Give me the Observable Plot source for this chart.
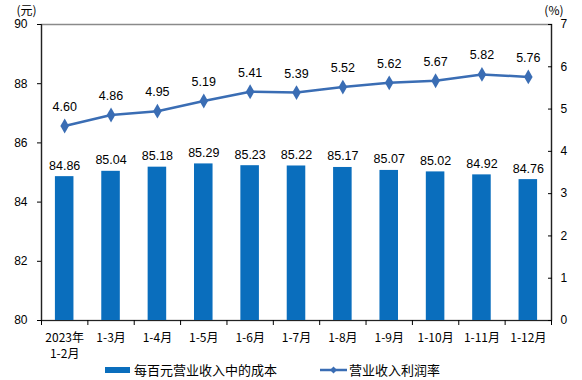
<!DOCTYPE html>
<html><head><meta charset="utf-8">
<script src="https://cdn.jsdelivr.net/npm/d3@7"></script>
<script src="https://cdn.jsdelivr.net/npm/@observablehq/plot@0.6"></script>
<style>
body{margin:0;background:#fff;}
#wrap{position:relative;width:582px;height:380px;overflow:hidden;}
#legend{position:absolute;left:0;top:358px;width:582px;height:22px;font-family:"Noto Sans CJK SC",sans-serif;font-size:13px;color:#000;}
.li{position:absolute;top:2px;display:flex;align-items:center;}
</style></head>
<body><div id="wrap"><div id="chart"></div>
<div id="legend">
  <div class="li" style="left:105px"><svg width="26" height="16"><rect x="0" y="5" width="25" height="6" fill="#0a6ebd"/></svg><span style="margin-left:3px">每百元营业收入中的成本</span></div>
  <div class="li" style="left:320px"><svg width="28" height="16"><line x1="0" y1="8" x2="27" y2="8" stroke="#3a6db4" stroke-width="2.5"/><path d="M13.5,4.5 L17,8 L13.5,11.5 L10,8Z" fill="#3a6db4"/></svg><span style="margin-left:1px">营业收入利润率</span></div>
</div></div>
<script>
const categories = ["2023年\n1-2月","1-3月","1-4月","1-5月","1-6月","1-7月","1-8月","1-9月","1-10月","1-11月","1-12月"];
const cost = [84.86,85.04,85.18,85.29,85.23,85.22,85.17,85.07,85.02,84.92,84.76];
const rate = [4.60,4.86,4.95,5.19,5.41,5.39,5.52,5.62,5.67,5.82,5.76];
const leftTicks = [80,82,84,86,88,90];
const rightTicks = [0,1,2,3,4,5,6,7];

const toLeft = r => 80 + r * 10 / 7;
const data = categories.map((c, i) => ({i, c, cost: cost[i], rate: rate[i], ry: toLeft(rate[i])}));
const barColor = "#0a6ebd", lineColor = "#3a6db4";
const numFont = "Liberation Sans, Arial, sans-serif";

const chart = Plot.plot({
  width: 582, height: 362,
  marginLeft: 41, marginRight: 31, marginTop: 24, marginBottom: 42,
  style: {fontFamily: numFont, fontSize: "12px", color: "#000", background: "#fff"},
  x: {type: "linear", domain: [-0.5, categories.length - 0.5]},
  y: {domain: [80, 90]},
  marks: [
    Plot.frame({stroke: "#8a8a8a", strokeWidth: 1.5}),
    Plot.rectY(data, {x1: d => d.i - 0.2, x2: d => d.i + 0.2, y1: 80, y2: "cost", fill: barColor}),
    Plot.ruleX([-0.5], {stroke: "#222", strokeWidth: 1.2}),
    Plot.ruleX([categories.length - 0.5], {stroke: "#222", strokeWidth: 1.2}),
    Plot.ruleY([80], {stroke: "#222", strokeWidth: 1.2}),
    Plot.axisY({anchor: "left", ticks: leftTicks, tickSize: 4, tickPadding: 10, label: null, tickFormat: d => d}),
    Plot.axisY({anchor: "right", ticks: rightTicks.map(toLeft), tickSize: -4, tickPadding: 13, label: null,
      tickFormat: v => Math.round((v - 80) * 0.7)}),
    Plot.axisX({ticks: d3.range(-0.5, categories.length), tickSize: 5, tickFormat: () => "", label: null}),
    Plot.axisX({ticks: d3.range(0, categories.length), tickSize: 0, tickPadding: 10, label: null,
      tickFormat: i => categories[i], fontFamily: "Noto Sans CJK SC", fontSize: 12, lineHeight: 1.35}),
    Plot.line(data, {x: "i", y: "ry", stroke: lineColor, strokeWidth: 2.5}),
    Plot.dot(data, {x: "i", y: "ry", symbol: "diamond", r: 4.5, fill: lineColor, stroke: "none"}),
    Plot.text(data, {x: "i", y: "cost", text: d => d.cost.toFixed(2), dy: -11, fontSize: 12.5, fill: "#000"}),
    Plot.text(data, {x: "i", y: "ry", text: d => d.rate.toFixed(2), dy: -19, fontSize: 12.5, fill: "#000"}),
    Plot.text(["(元)"], {frameAnchor: "top-left", dx: -25, dy: -13, lineAnchor: "middle", fontFamily: "Noto Sans CJK SC", fontSize: 12}),
    Plot.text(["(%)"], {frameAnchor: "top-right", dx: 12, dy: -13, lineAnchor: "middle", fontFamily: "Noto Sans CJK SC", fontSize: 12})
  ]
});
document.getElementById("chart").appendChild(chart);
</script>
</body></html>
